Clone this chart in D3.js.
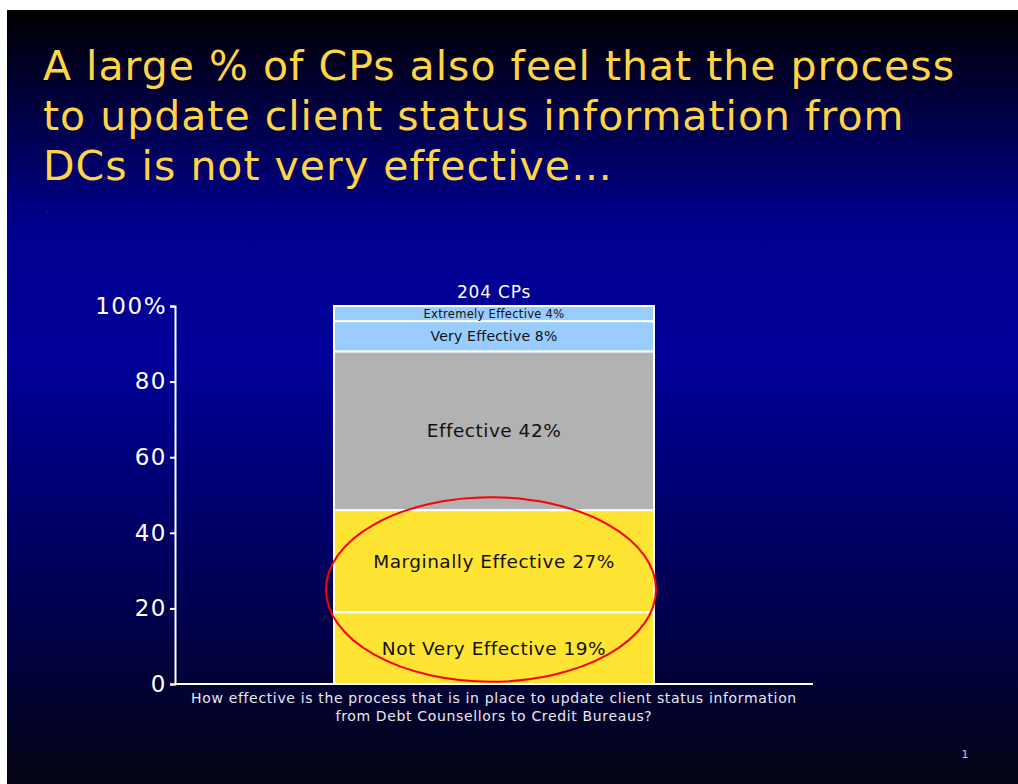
<!DOCTYPE html>
<html>
<head>
<meta charset="utf-8">
<script src="https://cdn.jsdelivr.net/npm/d3@7"></script>
<style>
  body { margin: 0; background: #ffffff; }
  svg { display: block; }
  .axis path, .axis line { stroke: #ffffff; stroke-width: 2; }
  .axis text { fill: #ffffff; font-family: "DejaVu Sans", Verdana, sans-serif; }
</style>
</head>
<body>
<div id="cont"></div>
<script>

// chart data
var titleLines = ["A large % of CPs also feel that the process", "to update client status information from", "DCs is not very effective\u2026"];
var groups = ["204 CPs"];
var categories = ["Not Very Effective", "Marginally Effective", "Effective", "Very Effective", "Extremely Effective"];
var values = [19, 27, 42, 8, 4];
var yTicks = [0, 20, 40, 60, 80, 100];
var question = ["How effective is the process that is in place to update client status information", "from Debt Counsellors to Credit Bureaus?"];

var fills = ["#ffe433", "#ffe433", "#b2b2b2", "#99ccff", "#99ccff"];
var labelSizes = [18.5, 18.5, 18.5, 14, 11.5];
var labelSpacing = [0.5, 0.5, 0.5, 0.2, 0.3];

var W = 1018, H = 784;
var font = "'DejaVu Sans', Verdana, sans-serif";

var svg = d3.select("#cont").append("svg")
  .attr("width", W)
  .attr("height", H);

var defs = svg.append("defs");
var grad = defs.append("linearGradient")
  .attr("id", "bg")
  .attr("x1", 0).attr("y1", 0).attr("x2", 0).attr("y2", 1);
grad.append("stop").attr("offset", "0%").attr("stop-color", "#000000");
grad.append("stop").attr("offset", "28%").attr("stop-color", "#00008f");
grad.append("stop").attr("offset", "45%").attr("stop-color", "#00009a");
grad.append("stop").attr("offset", "75%").attr("stop-color", "#000055");
grad.append("stop").attr("offset", "100%").attr("stop-color", "#040414");

// slide background
svg.append("rect")
  .attr("x", 7).attr("y", 10)
  .attr("width", W - 7).attr("height", H - 10)
  .attr("fill", "url(#bg)");

// title
svg.append("g").selectAll("text")
  .data(titleLines)
  .enter().append("text")
  .attr("x", 43)
  .attr("y", function(d, i) { return 80 + i * 50; })
  .attr("fill", "#ffd447")
  .style("font-family", font)
  .style("font-size", "41px")
  .style("letter-spacing", "1px")
  .text(function(d) { return d; });

svg.append("text")
  .attr("x", 46).attr("y", 213)
  .attr("fill", "#8888cc")
  .style("font-size", "6px")
  .text(".");

// scales
var xScale = d3.scaleBand().domain(groups).range([175, 813]).paddingInner(0).paddingOuter(0.497);
var yScale = d3.scaleLinear().domain([0, 100]).range([684, 306]);

// stack
var segs = [];
var acc = 0;
values.forEach(function(v, i) {
  segs.push({ name: categories[i], value: v, y0: acc, y1: acc + v, fill: fills[i], size: labelSizes[i], ls: labelSpacing[i] });
  acc += v;
});

var g = svg.append("g");

g.selectAll(".bar")
  .data(segs)
  .enter().append("rect")
  .attr("class", "bar")
  .attr("x", xScale(groups[0]))
  .attr("width", xScale.bandwidth())
  .attr("y", function(d) { return yScale(d.y1); })
  .attr("height", function(d) { return yScale(d.y0) - yScale(d.y1); })
  .attr("fill", function(d) { return d.fill; })
  .attr("stroke", "#ffffff")
  .attr("stroke-width", 2);

g.selectAll(".lbl")
  .data(segs)
  .enter().append("text")
  .attr("class", "lbl")
  .attr("x", xScale(groups[0]) + xScale.bandwidth() / 2)
  .attr("y", function(d) { return yScale((d.y0 + d.y1) / 2); })
  .attr("dy", "0.36em")
  .attr("text-anchor", "middle")
  .attr("fill", "#111111")
  .style("font-family", font)
  .style("font-size", function(d) { return d.size + "px"; })
  .style("letter-spacing", function(d) { return d.ls + "px"; })
  .text(function(d) { return d.name + " " + d.value + "%"; });

// group label
g.append("text")
  .attr("x", xScale(groups[0]) + xScale.bandwidth() / 2)
  .attr("y", yScale(100) - 8)
  .attr("text-anchor", "middle")
  .attr("fill", "#ffffff")
  .style("font-family", font)
  .style("font-size", "17px")
  .style("letter-spacing", "0.8px")
  .text(groups[0]);

// axes
var yAxis = svg.append("g")
  .attr("class", "axis")
  .attr("transform", "translate(175,0)")
  .call(d3.axisLeft(yScale)
    .tickValues(yTicks)
    .tickSize(5)
    .tickPadding(3)
    .tickFormat(function(d) { return d === 100 ? "100%" : d; }));
yAxis.selectAll("text")
  .style("font-size", "23px")
  .style("letter-spacing", "1.5px");

svg.append("line")
  .attr("x1", 175).attr("x2", 813)
  .attr("y1", yScale(0)).attr("y2", yScale(0))
  .attr("stroke", "#ffffff")
  .attr("stroke-width", 2);

// question
svg.append("g").selectAll("text")
  .data(question)
  .enter().append("text")
  .attr("x", 494)
  .attr("y", function(d, i) { return 703 + i * 18; })
  .attr("text-anchor", "middle")
  .attr("fill", "#e8e8f0")
  .style("font-family", font)
  .style("font-size", "14px")
  .style("letter-spacing", "0.65px")
  .text(function(d) { return d; });

// red ellipse highlighting the two lowest answers
svg.append("ellipse")
  .attr("cx", xScale(groups[0]) + xScale.bandwidth() / 2 - 3)
  .attr("cy", yScale(25))
  .attr("rx", 165)
  .attr("ry", yScale(0) - yScale(24.4))
  .attr("fill", "none")
  .attr("stroke", "#ff0000")
  .attr("stroke-width", 2);

// page number
svg.append("text")
  .attr("x", 965).attr("y", 758)
  .attr("text-anchor", "middle")
  .attr("fill", "#c8c8d8")
  .style("font-family", font)
  .style("font-size", "11px")
  .text("1");

</script>
</body>
</html>
